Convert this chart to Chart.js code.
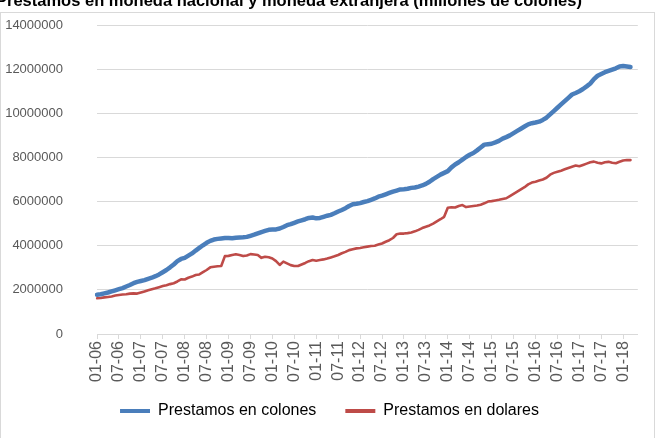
<!DOCTYPE html>
<html>
<head>
<meta charset="utf-8">
<script src="https://cdn.jsdelivr.net/npm/chart.js@4/dist/chart.umd.min.js"></script>
<style>
  html, body { margin: 0; padding: 0; background: #ffffff; }
  #wrap { position: relative; width: 659px; height: 438px; overflow: hidden; }
  canvas { display: block; }
</style>
</head>
<body>
<div id="wrap"><canvas id="c" width="659" height="438"></canvas></div>
<script>
// ---- data ----
const titleText = "Prestamos en moneda nacional y moneda extranjera (millones de colones)";
const seriesNames = ["Prestamos en colones", "Prestamos en dolares"];

// monthly categories "MM-YY" from 01-06 onward (axis runs a little past the data)
const categories = [];
for (let y = 6; y <= 18; y++) {
  for (let m = 1; m <= 12; m++) {
    if (categories.length < 149) {
      categories.push(String(m).padStart(2, "0") + "-" + String(y).padStart(2, "0"));
    }
  }
}
const tickMonths = ["01", "07"];
const yTicks = [0, 2000000, 4000000, 6000000, 8000000, 10000000, 12000000, 14000000];

const colones = [
  1780000, 1800000, 1840000, 1880000, 1930000, 1980000, 2030000, 2080000, 2150000, 2220000, 2300000, 2360000,
  2400000, 2440000, 2500000, 2550000, 2620000, 2700000, 2800000, 2900000, 3020000, 3150000, 3300000, 3400000,
  3450000, 3550000, 3650000, 3780000, 3900000, 4020000, 4130000, 4220000, 4280000, 4310000, 4330000, 4350000,
  4350000, 4340000, 4360000, 4370000, 4380000, 4400000, 4450000, 4500000, 4560000, 4620000, 4670000, 4720000,
  4730000, 4740000, 4780000, 4850000, 4930000, 4980000, 5040000, 5100000, 5150000, 5200000, 5260000, 5280000,
  5240000, 5260000, 5310000, 5360000, 5400000, 5470000, 5550000, 5620000, 5700000, 5800000, 5880000, 5900000,
  5930000, 5980000, 6020000, 6080000, 6140000, 6220000, 6270000, 6330000, 6390000, 6450000, 6500000, 6550000,
  6560000, 6580000, 6620000, 6640000, 6680000, 6730000, 6800000, 6900000, 7020000, 7120000, 7220000, 7300000,
  7380000, 7550000, 7680000, 7780000, 7900000, 8020000, 8120000, 8200000, 8320000, 8450000, 8580000, 8600000,
  8620000, 8680000, 8750000, 8850000, 8920000, 9000000, 9100000, 9200000, 9300000, 9400000, 9500000, 9550000,
  9580000, 9620000, 9700000, 9800000, 9950000, 10100000, 10250000, 10400000, 10550000, 10700000, 10850000, 10920000,
  11000000, 11100000, 11220000, 11350000, 11550000, 11700000, 11780000, 11860000, 11920000, 11980000, 12040000, 12120000,
  12140000, 12120000, 12100000
];

const dolares = [
  1620000, 1630000, 1660000, 1680000, 1700000, 1740000, 1770000, 1790000, 1800000, 1830000, 1840000, 1830000,
  1880000, 1930000, 1980000, 2030000, 2070000, 2120000, 2170000, 2210000, 2260000, 2300000, 2380000, 2480000,
  2470000, 2550000, 2600000, 2670000, 2700000, 2800000, 2900000, 3020000, 3050000, 3070000, 3080000, 3530000,
  3540000, 3580000, 3610000, 3580000, 3530000, 3560000, 3620000, 3600000, 3580000, 3450000, 3500000, 3480000,
  3420000, 3300000, 3130000, 3280000, 3200000, 3120000, 3080000, 3080000, 3150000, 3220000, 3300000, 3350000,
  3320000, 3350000, 3380000, 3420000, 3470000, 3520000, 3580000, 3660000, 3720000, 3800000, 3840000, 3880000,
  3900000, 3930000, 3960000, 3990000, 4000000, 4050000, 4100000, 4180000, 4250000, 4350000, 4520000, 4550000,
  4550000, 4570000, 4600000, 4650000, 4720000, 4800000, 4860000, 4920000, 5000000, 5100000, 5200000, 5310000,
  5720000, 5740000, 5730000, 5800000, 5840000, 5750000, 5780000, 5800000, 5820000, 5860000, 5920000, 6000000,
  6020000, 6050000, 6080000, 6120000, 6150000, 6250000, 6350000, 6450000, 6550000, 6650000, 6780000, 6860000,
  6900000, 6950000, 7000000, 7080000, 7220000, 7300000, 7350000, 7400000, 7460000, 7520000, 7580000, 7630000,
  7600000, 7660000, 7720000, 7780000, 7810000, 7760000, 7730000, 7780000, 7800000, 7760000, 7740000, 7800000,
  7860000, 7880000, 7880000
];

const FONT = "'Liberation Sans', Arial, sans-serif";

// clipped title, outer frame, and legend placement as in the reference
const framePlugin = {
  id: "frame",
  afterLayout(chart) {
    const lg = chart.legend;
    if (lg) {
      const h = lg.bottom - lg.top;
      lg.left = 19;
      lg.right = 640;
      lg.top = 374;
      lg.bottom = 374 + h;
    }
  },
  beforeDraw(chart) {
    const ctx = chart.ctx;
    ctx.save();
    ctx.fillStyle = "#ffffff";
    ctx.fillRect(0, 0, chart.width, chart.height);
    ctx.strokeStyle = "#d9d9d9";
    ctx.lineWidth = 1;
    ctx.strokeRect(0.5, 12.5, 654, 440);
    ctx.restore();
  },
  afterDraw(chart) {
    const ctx = chart.ctx;
    ctx.save();
    ctx.font = "bold 16.5px " + FONT;
    ctx.fillStyle = "#000000";
    ctx.textBaseline = "alphabetic";
    ctx.textAlign = "left";
    ctx.fillText(titleText, -4, 6);
    ctx.restore();
  }
};

new Chart(document.getElementById("c"), {
  type: "line",
  data: {
    labels: categories,
    datasets: [
      {
        label: seriesNames[0],
        data: colones,
        borderColor: "#4a7ebb",
        backgroundColor: "#4a7ebb",
        borderWidth: 4.5,
        pointRadius: 0,
        tension: 0,
        borderJoinStyle: "round",
        borderCapStyle: "round",
        order: 1
      },
      {
        label: seriesNames[1],
        data: dolares,
        borderColor: "#be4b48",
        backgroundColor: "#be4b48",
        borderWidth: 2.6,
        pointRadius: 0,
        tension: 0,
        borderJoinStyle: "round",
        borderCapStyle: "round",
        order: 2
      }
    ]
  },
  options: {
    responsive: false,
    animation: false,
    devicePixelRatio: 1,
    layout: { padding: { left: 0, right: 18, top: 25, bottom: 0 } },
    plugins: {
      title: { display: false },
      tooltip: { enabled: false },
      legend: {
        display: true,
        position: "bottom",
        labels: {
          boxWidth: 30,
          boxHeight: 4,
          padding: 29,
          color: "#595959",
          font: { family: FONT, size: 16 },
          generateLabels(chart) {
            return chart.data.datasets.map((ds, i) => ({
              text: ds.label,
              fillStyle: ds.borderColor,
              strokeStyle: ds.borderColor,
              lineWidth: 0,
              datasetIndex: i,
              hidden: false
            }));
          }
        }
      }
    },
    scales: {
      x: {
        type: "category",
        offset: false,
        grid: {
          drawOnChartArea: false,
          drawTicks: true,
          tickLength: 5,
          color: (c) => (c.index % 6 === 0 ? "#d9d9d9" : "rgba(0,0,0,0)")
        },
        border: { display: true, color: "#d9d9d9", width: 1 },
        ticks: {
          autoSkip: false,
          maxRotation: 90,
          minRotation: 90,
          padding: 2,
          color: "#595959",
          font: { family: FONT, size: 16 },
          callback(value, index) {
            const lab = categories[index];
            return tickMonths.includes(lab.slice(0, 2)) ? lab : "";
          }
        },
        afterFit(scale) { scale.height = 49; }
      },
      y: {
        min: 0,
        max: 14000000,
        afterBuildTicks(scale) { scale.ticks = yTicks.map(v => ({ value: v })); },
        grid: {
          color: "#d9d9d9",
          drawTicks: true,
          tickLength: 33,
          tickColor: "rgba(0,0,0,0)",
          lineWidth: 1
        },
        border: { display: false },
        ticks: {
          padding: 1,
          color: "#595959",
          font: { family: FONT, size: 13 },
          callback(v) { return String(v); }
        },
        afterFit(scale) { scale.width = 97; }
      }
    }
  },
  plugins: [framePlugin]
});
</script>
</body>
</html>
